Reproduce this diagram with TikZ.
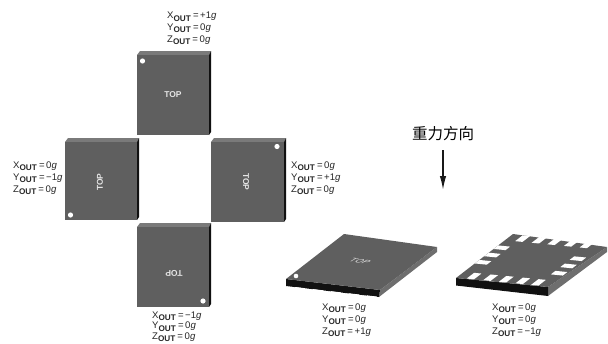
\documentclass[tikz,border=0pt]{standalone}
\usepackage{fontspec}
\usetikzlibrary{arrows.meta}
\setmainfont{Liberation Sans}
\newfontfamily\cjkf{Noto Sans CJK SC}
\newcommand{\ReadLine}[2]{#1\textsubscript{\fontsize{8.2}{8}\selectfont\bfseries OUT}\,=\,#2\textit{g}}
\newcommand{\Readout}[3]{\ReadLine{X}{#1}\\\ReadLine{Y}{#2}\\\ReadLine{Z}{#3}}
\definecolor{face}{HTML}{5F5F5F}
\definecolor{bevel}{HTML}{7A7A7A}
\definecolor{sideg}{HTML}{6E6E6E}
\definecolor{darkside}{HTML}{111111}
\tikzset{
 x=1pt,y=-1pt,
 readout/.style={align=left,font=\fontsize{9.6}{11.9}\selectfont,inner sep=0pt,text=black!85},
 tightreadout/.style={readout,font=\fontsize{9.6}{10.6}\selectfont},
 toplabel/.style={font=\fontsize{8.5}{9}\selectfont\bfseries,text=black!10,inner sep=0pt},
 dot/.style={circle,fill=white,inner sep=0pt,minimum size=5.2pt},
}
\newcommand{\Chip}[4]{%
 \fill[bevel] (#1,#2) -- (#1+3,#2-4) -- (#3+2,#2-4) -- (#3,#2) -- cycle;
 \fill[darkside] (#3,#2) -- (#3+2,#2-4) -- (#3+2,#4-3) -- (#3,#4) -- cycle;
 \fill[face] (#1,#2) rectangle (#3,#4);
}
\begin{document}
\begin{tikzpicture}
\useasboundingbox (0,0) rectangle (608,343);
\Chip{137}{55}{209}{135}
\Chip{65}{142}{137}{220}
\Chip{211}{142}{284}{222}
\Chip{137}{227}{209}{307}
\node[dot] (d1) at (142.5,61) {};
\node[dot] (d2) at (70.5,215) {};
\node[dot] (d3) at (277,146.5) {};
\node[dot] (d4) at (203,301) {};
\node[toplabel] (t1) at (173,95) {TOP};
\node[toplabel,rotate=90] (t2) at (100,182) {TOP};
\node[toplabel,rotate=-90] (t3) at (246,182) {TOP};
\node[toplabel,rotate=180] (t4) at (174,273) {TOP};
\node[readout,anchor=north west] (r1) at (167,12) {\Readout{+1}{0}{0}};
\node[readout,anchor=north west] (r2) at (13,161.5) {\Readout{0}{−1}{0}};
\node[readout,anchor=north west] (r3) at (291,161.5) {\Readout{0}{+1}{0}};
\node[tightreadout,anchor=north west] (r4) at (152,311.5) {\Readout{−1}{0}{0}};
\node[readout,anchor=north west] (r5) at (322,303.5) {\Readout{0}{0}{+1}};
\node[readout,anchor=north west] (r6) at (492,303.5) {\Readout{0}{0}{−1}};
\node[inner sep=0pt,font=\cjkf\fontsize{15.5}{16}\selectfont] (g) at (443,134) {重力方向};
\coordinate (a1) at (443,150);
\coordinate (a2) at (443,190);
\draw[line width=1.5pt,black!90,-{Latex[length=14pt,width=6.5pt]}] (a1) -- (a2);
% chip, top view
\fill[sideg] (380,290) -- (437,247) -- (437,252) -- (379,297) -- cycle;
\fill[darkside] (286,279) -- (380,290) -- (379,297) -- (286,286) -- cycle;
\fill[face] (286,279) -- (344,234) -- (437,247) -- (380,290) -- cycle;
\foreach \u in {0,1,2,3,4}{
 \fill[white] ({295+\u*18},{287+\u*2.1}) -- ({305+\u*18},{288.2+\u*2.1}) -- ({304.5+\u*18},{290+\u*2.1}) -- ({295.5+\u*18},{289+\u*2.1}) -- cycle;
}
\node[dot,minimum size=4.6pt] (d5) at (296,276) {};
\node[transform shape,cm={1,-.12,.7,.55,(360,261)},inner sep=0pt,font=\fontsize{9}{9}\selectfont\itshape,text=black!10] (t5) at (0,0) {TOP};
% chip, bottom view
\fill[sideg] (548,287) -- (607,247) -- (607,252) -- (548,296) -- cycle;
\fill[darkside] (456,278) -- (548,287) -- (548,296) -- (456,285.5) -- cycle;
\fill[face] (456,278) -- (513,234) -- (607,247) -- (548,287) -- cycle;
\begin{scope}[shift={(456,278)},x={(92pt,-9pt)},y={(57pt,44pt)}]
\foreach \c in {.15,.33,.5,.68,.85}{
 \fill[white] (\c-.04,.01) -- (\c+.04,.01) -- (\c+.04,.14) -- (\c-.04,.14) -- cycle;
 \fill[white] (\c-.04,.99) -- (\c+.04,.99) -- (\c+.04,.86) -- (\c-.04,.86) -- cycle;
}
\foreach \c in {.37,.535,.7}{
 \fill[white] (0,\c-.04) -- (.13,\c-.04) -- (.13,\c+.04) -- (0,\c+.04) -- cycle;
}
\foreach \c in {.3,.465,.63}{
 \fill[white] (1,\c-.04) -- (.87,\c-.04) -- (.87,\c+.04) -- (1,\c+.04) -- cycle;
}
\end{scope}
\end{tikzpicture}
\end{document}
